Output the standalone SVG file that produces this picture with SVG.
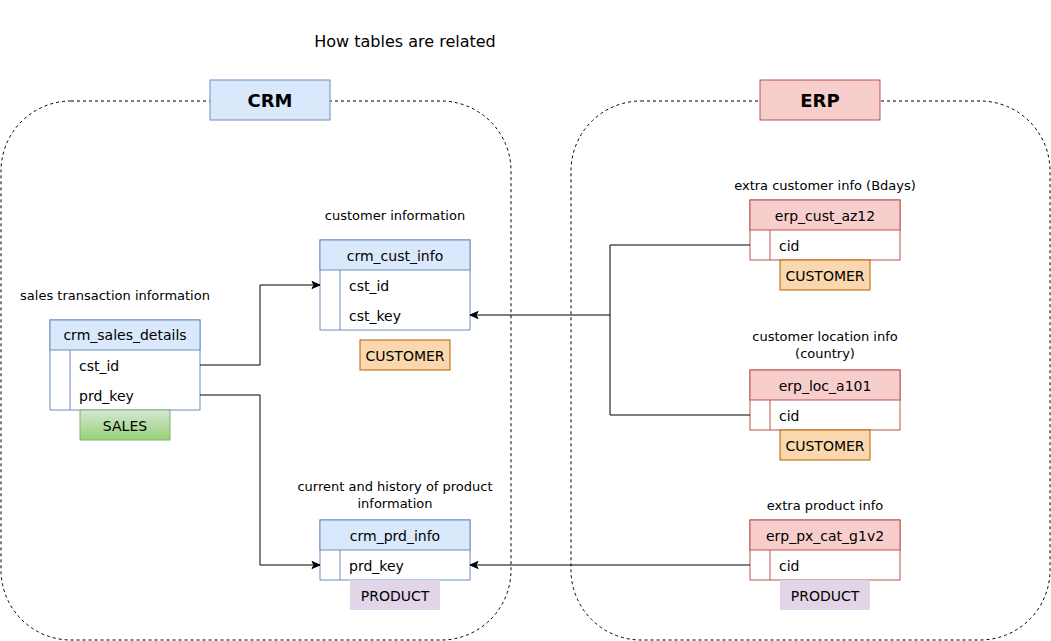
<svg xmlns="http://www.w3.org/2000/svg" width="1051" height="641" viewBox="0 0 1051 641">
<defs>
<style>
text{font-family:"Comic Sans MS","DejaVu Sans",sans-serif;fill:#000}
.lbl{font-size:13px;text-anchor:middle}
.hd{font-size:14px;text-anchor:middle}
.row{font-size:14px}
.tag{font-size:14px;text-anchor:middle}
.big{font-size:18px;font-weight:bold;text-anchor:middle}
.crm{fill:#dae8fc;stroke:#6c8ebf;stroke-width:1}
.erp{fill:#f8cecc;stroke:#b85450;stroke-width:1}
.cbody{fill:#fff;stroke:#6c8ebf;stroke-width:1}
.ebody{fill:#fff;stroke:#b85450;stroke-width:1}
.cust{fill:#fad7ac;stroke:#b46504;stroke-width:1}
.prod{fill:#e1d5e7;stroke:none}
.sales{fill:url(#g);stroke:#82b366;stroke-width:1}
.cont{fill:none;stroke:#000;stroke-dasharray:3 3;stroke-width:1}
.edge{fill:none;stroke:#000;stroke-width:1}
</style>
<linearGradient id="g" x1="0" y1="0" x2="0" y2="1">
<stop offset="0" stop-color="#d5e8d4"/>
<stop offset="1" stop-color="#97d077"/>
</linearGradient>
<marker id="arr" markerWidth="10" markerHeight="10" refX="9" refY="5" orient="auto" markerUnits="userSpaceOnUse">
<path d="M1,1.5 L9,5 L1,8.5 L3,5 Z" fill="#000" stroke="#000" stroke-width="1"/>
</marker>
</defs>
<rect width="1051" height="641" fill="#fff"/>
<text class="lbl" x="405" y="47" style="font-size:16px">How tables are related</text>

<g id="crm-container">
<rect class="cont" x="1" y="101" width="510" height="539" rx="70" ry="70"/>
</g>
<g id="erp-container">
<rect class="cont" x="571" y="101" width="479" height="539" rx="70" ry="70"/>
</g>
<g id="crm-title">
<rect class="crm" x="210" y="80" width="120" height="40"/>
<text class="big" x="270" y="107">CRM</text>
</g>
<g id="erp-title">
<rect class="erp" x="760" y="80" width="120" height="40"/>
<text class="big" x="820" y="107">ERP</text>
</g>

<g id="crm_sales_details">
<text class="lbl" x="115" y="300">sales transaction information</text>
<rect class="cbody" x="50" y="320" width="150" height="90"/>
<rect class="crm" x="50" y="320" width="150" height="30"/>
<line x1="70" y1="350" x2="70" y2="410" stroke="#6c8ebf"/>
<text class="hd" x="125" y="340">crm_sales_details</text>
<text class="row" x="79" y="371">cst_id</text>
<text class="row" x="79" y="401">prd_key</text>
<rect class="sales" x="80" y="410" width="90" height="30"/>
<text class="tag" x="125" y="431">SALES</text>
</g>

<g id="crm_cust_info">
<text class="lbl" x="395" y="220">customer information</text>
<rect class="cbody" x="320" y="240" width="150" height="90"/>
<rect class="crm" x="320" y="240" width="150" height="30"/>
<line x1="340" y1="270" x2="340" y2="330" stroke="#6c8ebf"/>
<text class="hd" x="395" y="261">crm_cust_info</text>
<text class="row" x="349" y="291">cst_id</text>
<text class="row" x="349" y="321">cst_key</text>
<rect class="cust" x="360" y="340" width="90" height="30"/>
<text class="tag" x="405" y="361">CUSTOMER</text>
</g>

<g id="crm_prd_info">
<text class="lbl" x="395" y="491">current and history of product</text>
<text class="lbl" x="395" y="508">information</text>
<rect class="cbody" x="320" y="520" width="150" height="60"/>
<rect class="crm" x="320" y="520" width="150" height="30"/>
<line x1="340" y1="550" x2="340" y2="580" stroke="#6c8ebf"/>
<text class="hd" x="395" y="541">crm_prd_info</text>
<text class="row" x="349" y="571">prd_key</text>
<rect class="prod" x="350" y="580" width="90" height="30"/>
<text class="tag" x="395" y="601">PRODUCT</text>
</g>

<g id="erp_cust_az12">
<text class="lbl" x="825" y="190">extra customer info (Bdays)</text>
<rect class="ebody" x="750" y="200" width="150" height="60"/>
<rect class="erp" x="750" y="200" width="150" height="30"/>
<line x1="770" y1="230" x2="770" y2="260" stroke="#b85450"/>
<text class="hd" x="825" y="221">erp_cust_az12</text>
<text class="row" x="779" y="251">cid</text>
<rect class="cust" x="780" y="260" width="90" height="30"/>
<text class="tag" x="825" y="281">CUSTOMER</text>
</g>

<g id="erp_loc_a101">
<text class="lbl" x="825" y="341">customer location info</text>
<text class="lbl" x="825" y="358">(country)</text>
<rect class="ebody" x="750" y="370" width="150" height="60"/>
<rect class="erp" x="750" y="370" width="150" height="30"/>
<line x1="770" y1="400" x2="770" y2="430" stroke="#b85450"/>
<text class="hd" x="825" y="391">erp_loc_a101</text>
<text class="row" x="779" y="421">cid</text>
<rect class="cust" x="780" y="430" width="90" height="30"/>
<text class="tag" x="825" y="451">CUSTOMER</text>
</g>

<g id="erp_px_cat_g1v2">
<text class="lbl" x="825" y="510">extra product info</text>
<rect class="ebody" x="750" y="520" width="150" height="60"/>
<rect class="erp" x="750" y="520" width="150" height="30"/>
<line x1="770" y1="550" x2="770" y2="580" stroke="#b85450"/>
<text class="hd" x="825" y="541">erp_px_cat_g1v2</text>
<text class="row" x="779" y="571">cid</text>
<rect class="prod" x="780" y="580" width="90" height="30"/>
<text class="tag" x="825" y="601">PRODUCT</text>
</g>

<g id="connectors">
<path class="edge" d="M200,365 H260 V285 H320" marker-end="url(#arr)"/>
<path class="edge" d="M200,395 H260 V565 H320" marker-end="url(#arr)"/>
<path class="edge" d="M750,245 H610 V315 H470" marker-end="url(#arr)"/>
<path class="edge" d="M750,415 H610 V315"/>
<path class="edge" d="M750,565 H470" marker-end="url(#arr)"/>
</g>
</svg>
